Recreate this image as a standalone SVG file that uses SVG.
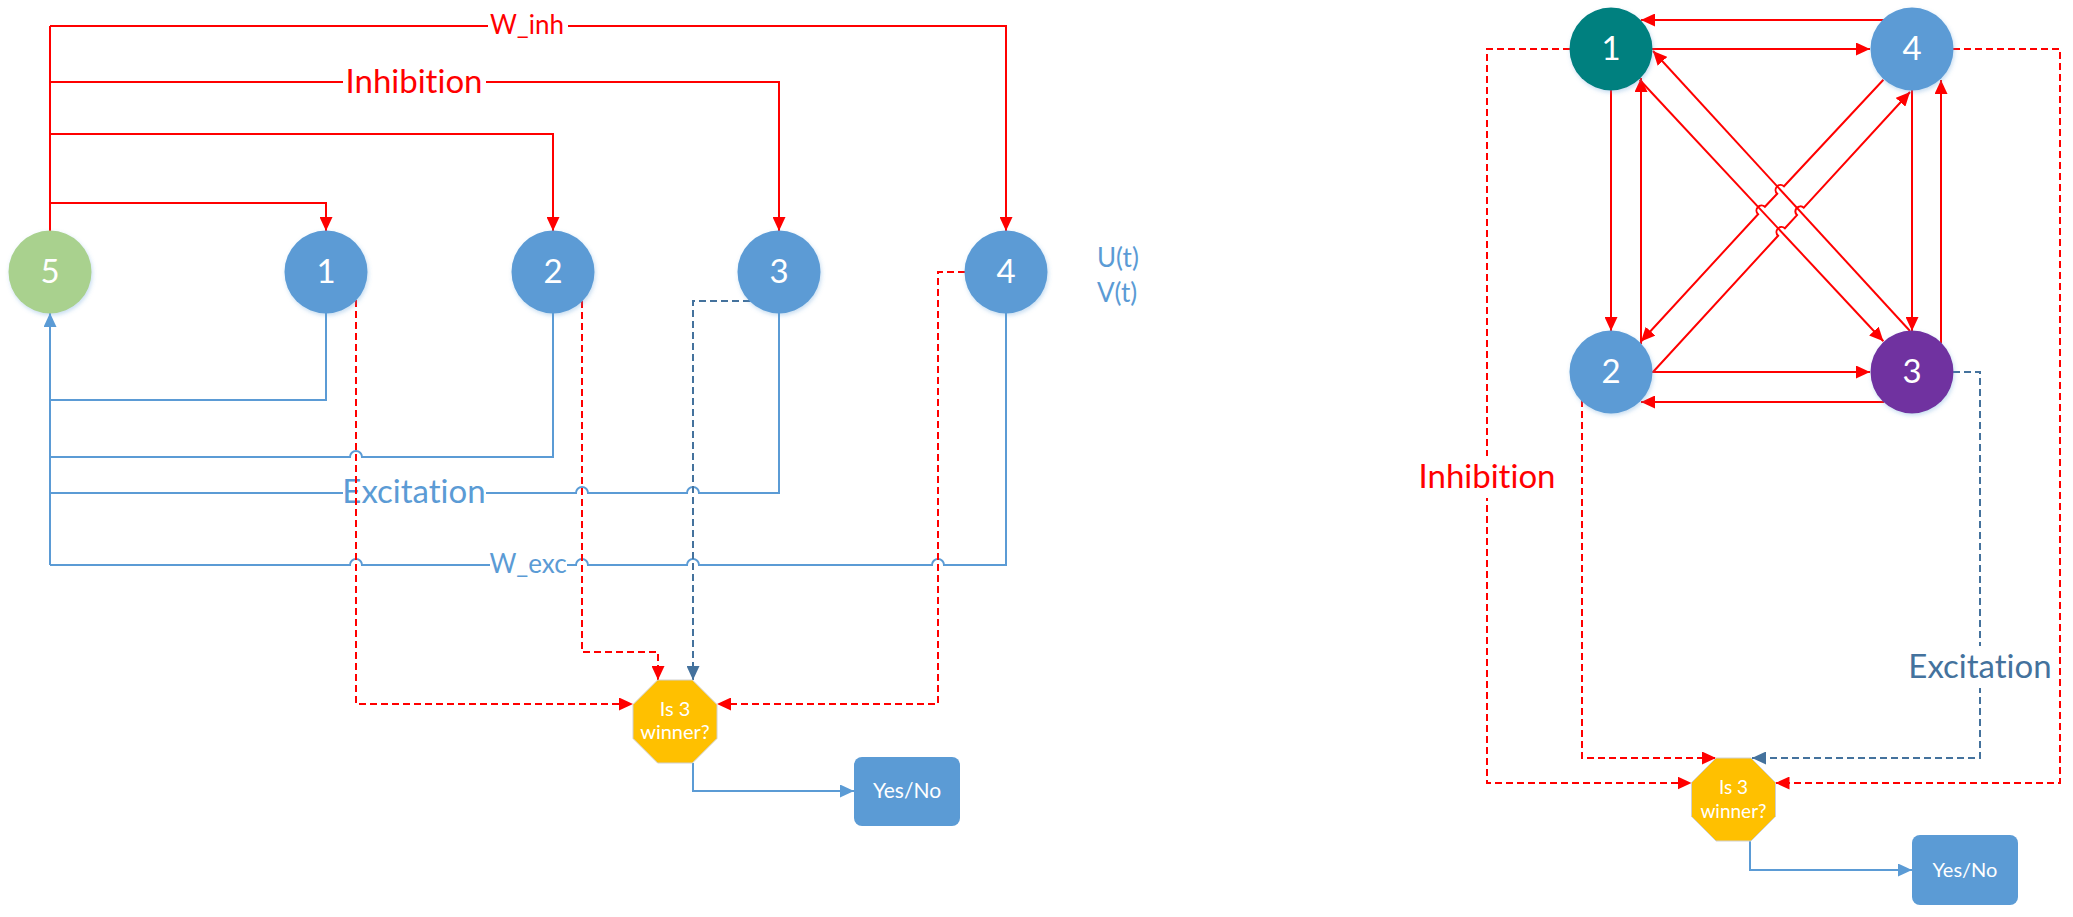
<svg xmlns="http://www.w3.org/2000/svg" width="2073" height="917" viewBox="0 0 2073 917">
  <style>
    text { font-variant-ligatures: none; font-feature-settings: "liga" 0, "clig" 0, "dlig" 0; }
    .inh { fill: none; stroke: #FF0000; stroke-width: 2; }
    .exc { fill: none; stroke: #5B9BD5; stroke-width: 2; }
    .inhd { fill: none; stroke: #FF0000; stroke-width: 2; stroke-dasharray: 7 4; }
    .excd { fill: none; stroke: #44729D; stroke-width: 2; stroke-dasharray: 7 4; }
    .flow { fill: none; stroke: #5B9BD5; stroke-width: 2; }
    .node text { font-family: Lato, "Liberation Sans", sans-serif; font-size: 33px; fill: #FFFFFF; text-anchor: middle; }
    .lbl { font-family: Lato, "Liberation Sans", sans-serif; text-anchor: middle; }
    .red { fill: #FF0000; }
    .blue { fill: #5B9BD5; }
    .dblue { fill: #44729D; }
    .oct { fill: #FFC000; stroke: #D0D0D0; stroke-width: 1; }
    .box { fill: #5B9BD5; }
    .small { font-family: Lato, "Liberation Sans", sans-serif; fill: #FFFFFF; text-anchor: middle; }
  </style>
  <defs>
    <marker id="arrRed" markerUnits="userSpaceOnUse" markerWidth="14" markerHeight="13" refX="14" refY="6.5" orient="auto">
      <path d="M0,0 L14,6.5 L0,13 z" fill="#FF0000"/>
    </marker>
    <marker id="arrBlue" markerUnits="userSpaceOnUse" markerWidth="14" markerHeight="13" refX="14" refY="6.5" orient="auto">
      <path d="M0,0 L14,6.5 L0,13 z" fill="#5B9BD5"/>
    </marker>
    <marker id="arrDark" markerUnits="userSpaceOnUse" markerWidth="14" markerHeight="13" refX="14" refY="6.5" orient="auto">
      <path d="M0,0 L14,6.5 L0,13 z" fill="#44729D"/>
    </marker>
    <filter id="glow" x="-20%" y="-20%" width="140%" height="150%">
      <feDropShadow dx="1" dy="2" stdDeviation="2" flood-color="#5B9BD5" flood-opacity="0.35"/>
    </filter>
  </defs>

  <!-- ===== Left network: node 5 broadcasts inhibition, nodes 1-4 feed excitation back ===== -->
  <g id="connectors-left">
    <!-- inhibition from node 5 -->
    <path class="inh" d="M50,231 V26"/>
    <path class="inh" d="M50,26 H1006 V231" marker-end="url(#arrRed)"/>
    <path class="inh" d="M50,82 H779 V231" marker-end="url(#arrRed)"/>
    <path class="inh" d="M50,134 H553 V231" marker-end="url(#arrRed)"/>
    <path class="inh" d="M50,203 H326 V231" marker-end="url(#arrRed)"/>

    <!-- excitation back to node 5 -->
    <path class="exc" d="M326,313 V400 H50"/>
    <path class="exc" d="M553,313 V457 H362 a6,6 0 0 0 -12,0 H50"/>
    <path class="exc" d="M779,313 V493 H699 a6,6 0 0 0 -12,0 H588 a6,6 0 0 0 -12,0 H50"/>
    <path class="exc" d="M1006,313 V565 H944 a6,6 0 0 0 -12,0 H699 a6,6 0 0 0 -12,0 H588 a6,6 0 0 0 -12,0 H362 a6,6 0 0 0 -12,0 H50"/>
    <path class="exc" d="M50,565 V313" marker-end="url(#arrBlue)"/>

    <!-- line labels -->
    <rect x="488" y="22" width="80" height="8" fill="#FFFFFF"/>
    <text class="lbl red" x="527" y="34" font-size="26">W_inh</text>
    <rect x="343" y="78" width="143" height="8" fill="#FFFFFF"/>
    <text class="lbl red" x="414" y="93" font-size="33">Inhibition</text>
    <rect x="343" y="489" width="143" height="8" fill="#FFFFFF"/>
    <text class="lbl blue" x="414" y="503" font-size="33">Excitation</text>
    <rect x="490" y="561" width="77" height="8" fill="#FFFFFF"/>
    <text class="lbl blue" x="528" y="573" font-size="26">W_exc</text>

    <!-- readout into the decision -->
    <path class="inhd" d="M356,300 V704 H633" marker-end="url(#arrRed)"/>
    <path class="inhd" d="M582,301 V652 H658 V680" marker-end="url(#arrRed)"/>
    <path class="excd" d="M750,301 H693 V680" marker-end="url(#arrDark)"/>
    <path class="inhd" d="M965,272 H938 V704 H717" marker-end="url(#arrRed)"/>
    <path class="flow" d="M693,763 V791 H854" marker-end="url(#arrBlue)"/>
  </g>

  <g id="node5-left" class="node">
    <circle cx="50" cy="272" r="41.5" fill="#A9D18E" filter="url(#glow)"/>
    <text x="50" y="283">5</text>
  </g>
  <g id="node1-left" class="node">
    <circle cx="326" cy="272" r="41.5" fill="#5B9BD5" filter="url(#glow)"/>
    <text x="326" y="283">1</text>
  </g>
  <g id="node2-left" class="node">
    <circle cx="553" cy="272" r="41.5" fill="#5B9BD5" filter="url(#glow)"/>
    <text x="553" y="283">2</text>
  </g>
  <g id="node3-left" class="node">
    <circle cx="779" cy="272" r="41.5" fill="#5B9BD5" filter="url(#glow)"/>
    <text x="779" y="283">3</text>
  </g>
  <g id="node4-left" class="node">
    <circle cx="1006" cy="272" r="41.5" fill="#5B9BD5" filter="url(#glow)"/>
    <text x="1006" y="283">4</text>
  </g>
  <g id="state-left">
    <text class="blue" x="1097" y="267" font-family="Lato, 'Liberation Sans', sans-serif" font-size="26">U(t)</text>
    <text class="blue" x="1097" y="302" font-family="Lato, 'Liberation Sans', sans-serif" font-size="26">V(t)</text>
  </g>
  <g id="decision-left">
    <polygon class="oct" points="657.6,680 692.4,680 717,704.6 717,738.4 692.4,763 657.6,763 633,738.4 633,704.6"/>
    <text class="small" x="675" y="716" font-size="20">Is 3</text>
    <text class="small" x="675" y="739" font-size="20">winner?</text>
  </g>
  <g id="result-left">
    <rect class="box" x="854" y="757" width="106" height="69" rx="8"/>
    <text class="small" x="907" y="798" font-size="21">Yes/No</text>
  </g>

  <!-- ===== Right network: fully connected mutual inhibition ===== -->
  <g id="connectors-right">
    <path class="inh" d="M1884,20 H1641" marker-end="url(#arrRed)"/>
    <path class="inh" d="M1652,49 H1870" marker-end="url(#arrRed)"/>
    <path class="inh" d="M1611,90 V331" marker-end="url(#arrRed)"/>
    <path class="inh" d="M1641,344 V78" marker-end="url(#arrRed)"/>
    <path class="inh" d="M1912,90 V331" marker-end="url(#arrRed)"/>
    <path class="inh" d="M1941,343 V80" marker-end="url(#arrRed)"/>
    <path class="inh" d="M1652,372 H1870" marker-end="url(#arrRed)"/>
    <path class="inh" d="M1884,402 H1641" marker-end="url(#arrRed)"/>

    <!-- diagonals, with hops where they cross -->
    <path class="inh" d="M1639.6,79.7 L1883.4,341.3" marker-end="url(#arrRed)"/>
    <path class="inh" d="M1910,331 L1653,51" marker-end="url(#arrRed)"/>
    <path class="inh" d="M1883.4,79.7 L1784,186.3 A5,5 0 0 0 1777.2,193.7 L1764.9,206.8 A5,5 0 0 0 1758.1,214.2 L1641,341.5" marker-end="url(#arrRed)"/>
    <path class="inh" d="M1653,372 L1778.1,235.7 A5,5 0 0 1 1784.9,228.3 L1797,215.1 A5,5 0 0 1 1803.8,207.7 L1910,92" marker-end="url(#arrRed)"/>

    <!-- readout into the decision -->
    <path class="inhd" d="M1570,49 H1487 V783 H1691.5" marker-end="url(#arrRed)"/>
    <path class="inhd" d="M1953,49 H2060 V783 H1775.5" marker-end="url(#arrRed)"/>
    <path class="inhd" d="M1582,400 V758 H1716" marker-end="url(#arrRed)"/>
    <path class="excd" d="M1953,372 H1980 V758 H1752" marker-end="url(#arrDark)"/>
    <path class="flow" d="M1750,841 V870 H1912" marker-end="url(#arrBlue)"/>

    <rect x="1470" y="456" width="34" height="42" fill="#FFFFFF"/>
    <text class="lbl red" x="1487" y="488" font-size="33">Inhibition</text>
    <rect x="1965" y="646" width="30" height="42" fill="#FFFFFF"/>
    <text class="lbl dblue" x="1980" y="678" font-size="33">Excitation</text>
  </g>

  <g id="node1-right" class="node">
    <circle cx="1611" cy="49" r="41.5" fill="#00807F" filter="url(#glow)"/>
    <text x="1611" y="60">1</text>
  </g>
  <g id="node4-right" class="node">
    <circle cx="1912" cy="49" r="41.5" fill="#5B9BD5" filter="url(#glow)"/>
    <text x="1912" y="60">4</text>
  </g>
  <g id="node2-right" class="node">
    <circle cx="1611" cy="372" r="41.5" fill="#5B9BD5" filter="url(#glow)"/>
    <text x="1611" y="383">2</text>
  </g>
  <g id="node3-right" class="node">
    <circle cx="1912" cy="372" r="41.5" fill="#7030A0" filter="url(#glow)"/>
    <text x="1912" y="383">3</text>
  </g>
  <g id="decision-right">
    <polygon class="oct" points="1716,758 1751,758 1775.5,782.6 1775.5,816.4 1751,841 1716,841 1691.5,816.4 1691.5,782.6"/>
    <text class="small" x="1733.5" y="794" font-size="19">Is 3</text>
    <text class="small" x="1733.5" y="818" font-size="19">winner?</text>
  </g>
  <g id="result-right">
    <rect class="box" x="1912" y="835" width="106" height="70" rx="8"/>
    <text class="small" x="1965" y="877" font-size="20">Yes/No</text>
  </g>
</svg>
